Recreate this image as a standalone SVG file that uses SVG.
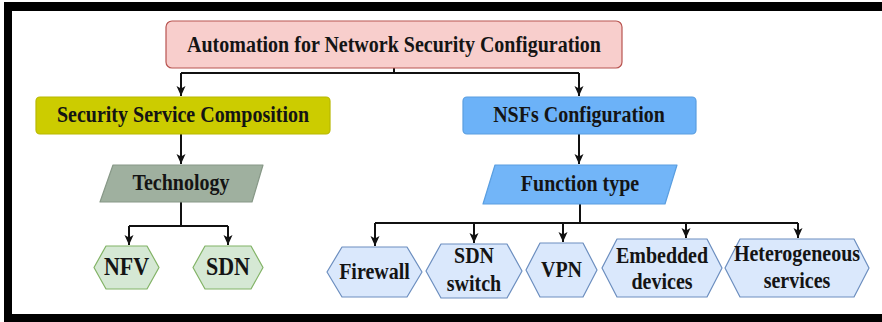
<svg xmlns="http://www.w3.org/2000/svg" width="882" height="322" viewBox="0 0 882 322">
<style>
.t{font-family:"Liberation Serif","Times New Roman",serif;font-weight:bold;font-size:20px;fill:#141414;text-anchor:middle}
.c{fill:none;stroke:#111;stroke-width:2}
.hexb{fill:#dae8fc;stroke:#6c8ebf;stroke-width:1.2;stroke-linejoin:round}
.hexg{fill:#d5e8d4;stroke:#82b366;stroke-width:1.2;stroke-linejoin:round}
</style>
<defs>
<marker id="ad" markerUnits="userSpaceOnUse" markerWidth="12" markerHeight="12" viewBox="0 0 12 12" refX="6" refY="11" orient="0">
<path d="M1.5,1 L6,3.5 L10.5,1 L6,11 Z" fill="#111"/>
</marker>
</defs>
<rect width="882" height="322" fill="#fff"/>
<g id="frame" fill="#000">
<rect x="4" y="2" width="878" height="9"/>
<rect x="4" y="2" width="8" height="320"/>
<rect x="4" y="314" width="878" height="8"/>
</g>
<g id="connectors">
<path class="c" d="M394,68 V73 M181,73 H579"/>
<path class="c" d="M181,73 V96" marker-end="url(#ad)"/>
<path class="c" d="M579,73 V96" marker-end="url(#ad)"/>
<path class="c" d="M181,134 V164" marker-end="url(#ad)"/>
<path class="c" d="M579,134 V164" marker-end="url(#ad)"/>
<path class="c" d="M181,202 V226 M129,226 H228"/>
<path class="c" d="M129,226 V245" marker-end="url(#ad)"/>
<path class="c" d="M228,226 V245" marker-end="url(#ad)"/>
<path class="c" d="M580,204 V223 M375,223 H798"/>
<path class="c" d="M375,223 V246" marker-end="url(#ad)"/>
<path class="c" d="M474,223 V243" marker-end="url(#ad)"/>
<path class="c" d="M563,223 V242" marker-end="url(#ad)"/>
<path class="c" d="M686,223 V238" marker-end="url(#ad)"/>
<path class="c" d="M798,223 V238" marker-end="url(#ad)"/>
</g>
<g id="n-root">
<rect x="166" y="21" width="456" height="47" rx="6" fill="#f8cecc" stroke="#b85450" stroke-width="1.2"/>
<text class="t" transform="translate(394,52) scale(1,1.15)">Automation for Network Security Configuration</text>
</g>
<g id="n-ssc">
<rect x="36" y="97" width="294" height="37" rx="4" fill="#cccc00" stroke="#b8b800" stroke-width="1.2"/>
<text class="t" transform="translate(183,122) scale(1,1.15)">Security Service Composition</text>
</g>
<g id="n-nsf">
<rect x="463" y="97" width="233" height="37" rx="4" fill="#6cb2f8" stroke="#5a9ee0" stroke-width="1.2"/>
<text class="t" transform="translate(579,122) scale(1,1.15)">NSFs Configuration</text>
</g>
<g id="n-tech">
<path d="M113,165 H263 L252,202 H100 Z" fill="#9fb09f" stroke="#879887" stroke-width="1.2" stroke-linejoin="round"/>
<text class="t" transform="translate(181,190) scale(1,1.15)">Technology</text>
</g>
<g id="n-func">
<path d="M495,165 H677 L665,204 H483 Z" fill="#72b5f8" stroke="#5a9ee0" stroke-width="1.2" stroke-linejoin="round"/>
<text class="t" transform="translate(580,191) scale(1,1.15)">Function type</text>
</g>
<g id="n-nfv">
<polygon class="hexg" points="94,267.5 106,246 147,246 159,267.5 147,289 106,289"/>
<text class="t" transform="translate(126.5,275) scale(1,1.15)" style="font-size:22px">NFV</text>
</g>
<g id="n-sdn">
<polygon class="hexg" points="193,267.5 205,246 251,246 263,267.5 251,289 205,289"/>
<text class="t" transform="translate(228,275) scale(1,1.15)" style="font-size:22px">SDN</text>
</g>
<g id="n-firewall">
<polygon class="hexb" points="327,272 342,247 407,247 422,272 407,297 342,297"/>
<text class="t" transform="translate(374.5,279) scale(1,1.15)">Firewall</text>
</g>
<g id="n-sdnswitch">
<polygon class="hexb" points="426,271 441,244 507,244 522,271 507,298 441,298"/>
<text class="t" transform="translate(474,263) scale(1,1.15)">SDN</text>
<text class="t" transform="translate(474,291) scale(1,1.15)">switch</text>
</g>
<g id="n-vpn">
<polygon class="hexb" points="526,270 540,243 583,243 597,270 583,297 540,297"/>
<text class="t" transform="translate(561.5,277) scale(1,1.15)">VPN</text>
</g>
<g id="n-embedded">
<polygon class="hexb" points="602,268 617,239 707,239 722,268 707,297 617,297"/>
<text class="t" transform="translate(662,263) scale(1,1.15)">Embedded</text>
<text class="t" transform="translate(662,289) scale(1,1.15)">devices</text>
</g>
<g id="n-hetero">
<polygon class="hexb" points="725,268 740,239 854,239 869,268 854,297 740,297"/>
<text class="t" transform="translate(797,261) scale(1,1.15)">Heterogeneous</text>
<text class="t" transform="translate(797,288) scale(1,1.15)">services</text>
</g>
</svg>
